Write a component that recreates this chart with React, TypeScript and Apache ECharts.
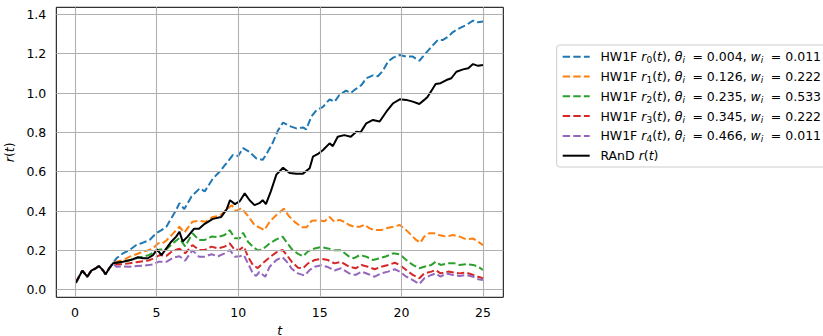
import React, { useEffect, useRef } from "react";
import * as echarts from "echarts";

// common early path shared by all series (t, r)
const startPath: number[][] = [
  [0.05, 0.035], [0.45, 0.097], [0.75, 0.066], [1.0, 0.097], [1.27, 0.109],
  [1.47, 0.12], [1.7, 0.1], [1.88, 0.078], [2.1, 0.109], [2.33, 0.134],
];

const hw0: number[][] = [
  [2.54, 0.16], [2.94, 0.185], [3.35, 0.202], [3.76, 0.227], [4.16, 0.239], [4.57, 0.253],
  [4.98, 0.287], [5.3, 0.303], [5.6, 0.32], [5.9, 0.363], [6.2, 0.405], [6.4, 0.44],
  [6.7, 0.41], [7.13, 0.473], [7.64, 0.515], [7.95, 0.5], [8.46, 0.566], [8.86, 0.6],
  [9.27, 0.642], [9.68, 0.685], [10.0, 0.68], [10.3, 0.72], [10.7, 0.7], [11.1, 0.668],
  [11.5, 0.66], [11.7, 0.685], [12.1, 0.744], [12.44, 0.81], [12.75, 0.85], [13.15, 0.832],
  [13.56, 0.82], [13.97, 0.825], [14.17, 0.815], [14.48, 0.88], [14.8, 0.913], [15.2, 0.93],
  [15.6, 0.968], [15.9, 0.955], [16.2, 0.99], [16.6, 1.012], [16.9, 1.0], [17.2, 1.02],
  [17.55, 1.04], [17.85, 1.075], [18.26, 1.09], [18.56, 1.085], [18.87, 1.113], [19.18, 1.16],
  [19.5, 1.18], [19.9, 1.193], [20.3, 1.185], [20.7, 1.185], [21.1, 1.164], [21.4, 1.193],
  [21.84, 1.235], [22.24, 1.27], [22.55, 1.27], [22.86, 1.286], [23.16, 1.31], [23.57, 1.33],
  [23.98, 1.346], [24.39, 1.368], [24.7, 1.36], [25.0, 1.363],
];

const hw1: number[][] = [
  [2.54, 0.142], [2.94, 0.15], [3.35, 0.168], [3.76, 0.18], [4.16, 0.193], [4.47, 0.2],
  [4.78, 0.21], [5.1, 0.236], [5.35, 0.235], [5.6, 0.25], [6.0, 0.285], [6.4, 0.32],
  [6.7, 0.29], [7.2, 0.346], [7.6, 0.35], [8.0, 0.346], [8.45, 0.37], [8.86, 0.375],
  [9.27, 0.405], [9.6, 0.43], [9.85, 0.4], [10.2, 0.414], [10.6, 0.375], [11.0, 0.329],
  [11.4, 0.312], [11.6, 0.303], [11.93, 0.346], [12.34, 0.38], [12.8, 0.412], [13.1, 0.375],
  [13.5, 0.342], [13.9, 0.318], [14.2, 0.318], [14.5, 0.35], [15.0, 0.352], [15.3, 0.348],
  [15.6, 0.37], [15.9, 0.345], [16.2, 0.355], [16.5, 0.345], [16.8, 0.329], [17.1, 0.32],
  [17.45, 0.32], [17.75, 0.33], [18.05, 0.312], [18.36, 0.303], [18.77, 0.303], [19.08, 0.312],
  [19.5, 0.32], [19.9, 0.329], [20.3, 0.303], [20.6, 0.278], [20.9, 0.253], [21.16, 0.239],
  [21.4, 0.27], [21.7, 0.287], [22.0, 0.287], [22.3, 0.278], [22.76, 0.27], [23.16, 0.278],
  [23.57, 0.27], [23.98, 0.256], [24.4, 0.26], [24.7, 0.244], [25.0, 0.227],
];

const hw2: number[][] = [
  [2.54, 0.135], [2.94, 0.14], [3.35, 0.15], [3.76, 0.16], [4.16, 0.168], [4.5, 0.175],
  [4.78, 0.188], [5.2, 0.205], [5.6, 0.205], [6.0, 0.236], [6.4, 0.262], [6.75, 0.22],
  [7.2, 0.287], [7.6, 0.253], [7.95, 0.253], [8.36, 0.27], [8.77, 0.268], [9.17, 0.278],
  [9.48, 0.303], [9.8, 0.261], [10.1, 0.261], [10.3, 0.29], [10.6, 0.244], [10.9, 0.219],
  [11.2, 0.2], [11.5, 0.205], [11.93, 0.236], [12.34, 0.256], [12.72, 0.27], [12.98, 0.24],
  [13.3, 0.205], [13.67, 0.182], [13.97, 0.17], [14.28, 0.195], [14.69, 0.21], [15.1, 0.217],
  [15.5, 0.21], [15.9, 0.2], [16.3, 0.2], [16.8, 0.168], [17.1, 0.16], [17.45, 0.176],
  [17.85, 0.168], [18.26, 0.151], [18.67, 0.16], [19.08, 0.17], [19.5, 0.185], [19.9, 0.18],
  [20.3, 0.151], [20.7, 0.126], [21.1, 0.109], [21.4, 0.117], [21.84, 0.126], [22.1, 0.142],
  [22.4, 0.126], [22.86, 0.134], [23.26, 0.134], [23.57, 0.126], [23.98, 0.13], [24.4, 0.126],
  [24.7, 0.117], [25.0, 0.1],
];

const hw3: number[][] = [
  [2.54, 0.128], [2.94, 0.13], [3.35, 0.134], [3.76, 0.14], [4.16, 0.145], [4.5, 0.148],
  [4.78, 0.158], [5.2, 0.176], [5.6, 0.172], [6.0, 0.198], [6.4, 0.208], [6.75, 0.185],
  [7.2, 0.227], [7.6, 0.202], [7.95, 0.202], [8.36, 0.219], [8.77, 0.21], [9.17, 0.219],
  [9.48, 0.236], [9.8, 0.202], [10.1, 0.205], [10.35, 0.219], [10.6, 0.168], [10.9, 0.126],
  [11.2, 0.11], [11.5, 0.134], [11.93, 0.165], [12.34, 0.19], [12.72, 0.202], [12.98, 0.176],
  [13.3, 0.14], [13.67, 0.112], [13.97, 0.109], [14.28, 0.134], [14.69, 0.151], [15.1, 0.157],
  [15.5, 0.151], [15.9, 0.134], [16.3, 0.142], [16.8, 0.117], [17.2, 0.109], [17.55, 0.126],
  [17.95, 0.117], [18.36, 0.104], [18.77, 0.117], [19.18, 0.126], [19.6, 0.137], [19.9, 0.126],
  [20.3, 0.1], [20.7, 0.075], [21.1, 0.058], [21.4, 0.083], [21.84, 0.092], [22.1, 0.1],
  [22.4, 0.083], [22.86, 0.092], [23.26, 0.087], [23.57, 0.083], [23.98, 0.087], [24.4, 0.075],
  [24.7, 0.066], [25.0, 0.058],
];

const hw4: number[][] = [
  [2.54, 0.117], [2.94, 0.118], [3.35, 0.117], [3.76, 0.12], [4.16, 0.122], [4.5, 0.125],
  [4.78, 0.128], [5.1, 0.142], [5.6, 0.142], [6.0, 0.162], [6.4, 0.17], [6.75, 0.148],
  [7.2, 0.2], [7.6, 0.168], [7.95, 0.168], [8.36, 0.18], [8.77, 0.17], [9.17, 0.185],
  [9.48, 0.202], [9.8, 0.168], [10.1, 0.17], [10.35, 0.175], [10.6, 0.134], [10.9, 0.083],
  [11.1, 0.07], [11.3, 0.09], [11.66, 0.066], [11.93, 0.117], [12.34, 0.151], [12.72, 0.165],
  [12.98, 0.142], [13.3, 0.105], [13.67, 0.083], [14.07, 0.072], [14.38, 0.1], [14.69, 0.117],
  [15.1, 0.124], [15.5, 0.115], [15.9, 0.098], [16.3, 0.109], [16.8, 0.083], [17.2, 0.075],
  [17.55, 0.092], [17.95, 0.08], [18.36, 0.066], [18.77, 0.083], [19.18, 0.092], [19.6, 0.104],
  [19.9, 0.092], [20.3, 0.066], [20.7, 0.049], [21.1, 0.029], [21.4, 0.058], [21.84, 0.075],
  [22.1, 0.083], [22.4, 0.066], [22.76, 0.083], [23.16, 0.075], [23.57, 0.07], [23.98, 0.075],
  [24.4, 0.066], [24.7, 0.053], [25.0, 0.049],
];

const randPath: number[][] = [
  [2.6, 0.138], [2.94, 0.142], [3.25, 0.148], [3.55, 0.155], [3.86, 0.165], [4.16, 0.16],
  [4.47, 0.16], [4.78, 0.176], [5.03, 0.205], [5.3, 0.176], [5.6, 0.21], [5.9, 0.244],
  [6.2, 0.27], [6.4, 0.295], [6.6, 0.245], [6.9, 0.27], [7.3, 0.31], [7.6, 0.31],
  [7.95, 0.335], [8.45, 0.36], [8.96, 0.37], [9.3, 0.41], [9.5, 0.455], [9.8, 0.435],
  [10.1, 0.45], [10.4, 0.49], [10.7, 0.455], [11.0, 0.43], [11.3, 0.44], [11.5, 0.455],
  [11.7, 0.435], [12.0, 0.5], [12.34, 0.585], [12.75, 0.62], [13.15, 0.593], [13.56, 0.59],
  [13.97, 0.59], [14.38, 0.617], [14.58, 0.676], [14.89, 0.69], [15.2, 0.71], [15.6, 0.744],
  [15.8, 0.73], [16.1, 0.778], [16.5, 0.786], [16.9, 0.778], [17.24, 0.803], [17.5, 0.8],
  [17.85, 0.846], [18.26, 0.863], [18.67, 0.855], [19.08, 0.905], [19.5, 0.948], [19.9, 0.968],
  [20.3, 0.965], [20.7, 0.956], [21.1, 0.944], [21.4, 0.965], [21.6, 0.98], [21.9, 1.019],
  [22.1, 1.046], [22.4, 1.05], [22.76, 1.066], [23.06, 1.075], [23.37, 1.108], [23.78, 1.12],
  [24.1, 1.126], [24.39, 1.147], [24.7, 1.138], [25.0, 1.142],
];

const xTicks = [0, 5, 10, 15, 20, 25];
const yTicks = [0, 0.2, 0.4, 0.6, 0.8, 1.0, 1.2, 1.4];

const hwNames = ["r0", "r1", "r2", "r3", "r4"];
const hwThetas = ["0.004", "0.126", "0.235", "0.345", "0.466"];
const hwWeights = ["0.011", "0.222", "0.533", "0.222", "0.011"];
const hwColors = ["#1f77b4", "#ff7f0e", "#2ca02c", "#d62728", "#9467bd"];
const hwPaths = [hw0, hw1, hw2, hw3, hw4];

const FONT = "DejaVu Sans";

export default function App() {
  const ref = useRef<HTMLDivElement>(null);
  useEffect(() => {
    document.body.style.margin = "0";
    const chart = echarts.init(ref.current!, null, { renderer: "svg" });

    const legendLabels: Record<string, string> = {};
    hwNames.forEach((n, i) => {
      legendLabels[n] = `HW1F {i|r}{s|${i}}({i|t}), {i|θ}{si|i}{e|=}${hwThetas[i]}, {i|w}{si|i}{e|=}${hwWeights[i]}`;
    });
    legendLabels["rand"] = "RAnD {i|r}({i|t})";

    const gridLines = [
      ...xTicks.map((v) => ({ xAxis: v })),
      ...yTicks.map((v) => ({ yAxis: v })),
    ];

    const series: any[] = [
      {
        type: "line",
        name: "grid",
        data: [],
        z: 1,
        silent: true,
        markLine: {
          silent: true,
          symbol: "none",
          label: { show: false },
          lineStyle: { color: "#b0b0b0", width: 1.07, type: "solid" },
          data: gridLines,
          animation: false,
        },
      },
      ...hwNames.map((n, i) => ({
        type: "line",
        name: n,
        data: [...startPath, ...hwPaths[i]],
        showSymbol: false,
        symbol: "none",
        z: 2,
        color: hwColors[i],
        lineStyle: { color: hwColors[i], width: 2, type: [7.4, 3.2] },
      })),
      {
        type: "line",
        name: "rand",
        data: [...startPath, ...randPath],
        showSymbol: false,
        symbol: "none",
        z: 3,
        color: "#000000",
        lineStyle: { color: "#000000", width: 2, type: "solid" },
      },
    ];

    chart.setOption({
      animation: false,
      textStyle: { fontFamily: FONT },
      grid: {
        left: 56.3,
        top: 7.3,
        width: 447,
        height: 290,
        show: true,
        borderColor: "#000",
        borderWidth: 1,
        backgroundColor: "transparent",
        containLabel: false,
        outerBoundsMode: "none",
      },
      xAxis: {
        type: "value",
        min: -1.145,
        max: 26.245,
        name: "t",
        nameLocation: "middle",
        nameGap: 23,
        nameTextStyle: { fontFamily: FONT, fontSize: 12.5, fontStyle: "italic", color: "#000" },
        axisLine: { show: true, lineStyle: { color: "#000", width: 1 } },
        axisTick: { show: true, length: 4.3, lineStyle: { color: "#000", width: 1 }, customValues: xTicks },
        axisLabel: {
          customValues: xTicks,
          fontSize: 12.5,
          fontFamily: FONT,
          color: "#000",
          margin: 9,
        },
        splitLine: { show: false },
      },
      yAxis: {
        type: "value",
        min: -0.0386,
        max: 1.4357,
        name: "{i|r}({i|t})",
        nameLocation: "middle",
        nameGap: 36,
        nameTextStyle: {
          fontFamily: FONT,
          fontSize: 12.5,
          color: "#000",
          rich: { i: { fontStyle: "italic", fontFamily: FONT, fontSize: 12.5 } },
        },
        axisLine: { show: true, lineStyle: { color: "#000", width: 1 } },
        axisTick: { show: true, length: 4.3, lineStyle: { color: "#000", width: 1 }, customValues: yTicks },
        axisLabel: {
          customValues: yTicks,
          fontSize: 12.5,
          fontFamily: FONT,
          color: "#000",
          margin: 10,
          formatter: (v: number) => v.toFixed(1),
        },
        splitLine: { show: false },
      },
      legend: {
        data: [...hwNames, "rand"],
        orient: "vertical",
        left: 556.7,
        top: 45,
        padding: [3.7, 6, 3.3, 5],
        itemWidth: 27,
        itemHeight: 14,
        itemGap: 3.8,
        itemStyle: { opacity: 0 },
        backgroundColor: "#fff",
        borderColor: "#cccccc",
        borderWidth: 1,
        borderRadius: 3,
        selectedMode: false,
        formatter: (name: string) => legendLabels[name],
        textStyle: {
          fontFamily: FONT,
          fontSize: 12.5,
          color: "#000",
          lineHeight: 16,
          padding: [0, 0, 0, 5.7],
          rich: {
            i: { fontStyle: "italic", fontFamily: FONT, fontSize: 12.5, lineHeight: 16, color: "#000" },
            s: { fontFamily: FONT, fontSize: 9, lineHeight: 9, verticalAlign: "bottom", color: "#000" },
            si: { fontFamily: FONT, fontStyle: "italic", fontSize: 9, lineHeight: 9, verticalAlign: "bottom", color: "#000" },
            e: { fontFamily: FONT, fontSize: 12.5, lineHeight: 16, color: "#000", padding: [0, 4, 0, 7.5] },
          },
        },
      },
      series,
    });
    return () => chart.dispose();
  }, []);
  return <div ref={ref} style={{ width: 823, height: 336 }} />;
}
